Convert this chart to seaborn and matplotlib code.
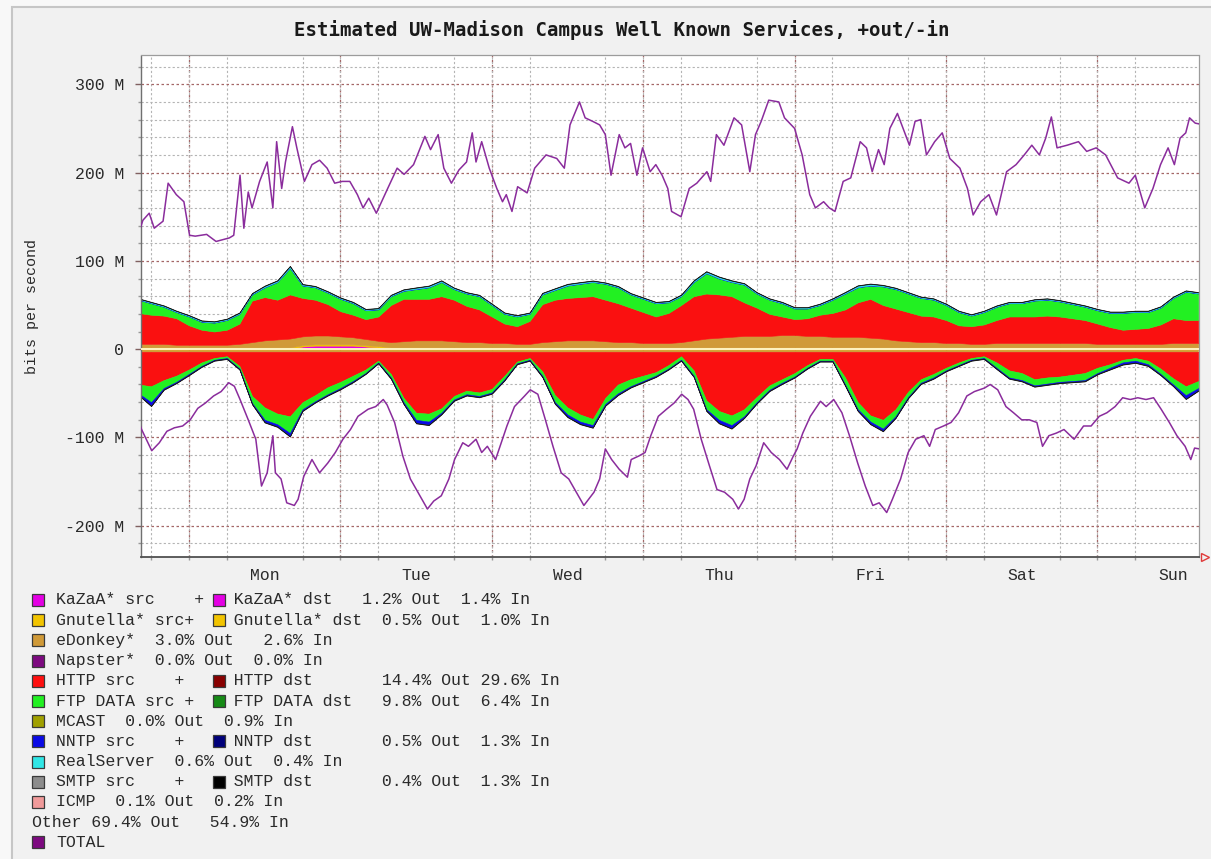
import numpy as np
import matplotlib
matplotlib.use("Agg")
import matplotlib.pyplot as plt
import seaborn as sns
from matplotlib.patches import Rectangle
from matplotlib.ticker import MultipleLocator

W, H = 1211, 859

# ---------------- data (Mbit/s, time in hours from Monday 00:00) ----------------
# stacked areas are read every 2 hours from Sun 16:00 to Sun 16:00
area_hours = np.arange(-8, 161, 2)

kazaa_out = [0.5, 0.5, 0.5, 0.5, 0.5, 0.5, 0.5, 0.5, 0.5, 0.5, 0.5, 0.5,
             0.5, 3, 4, 4, 4, 4, 3, 2, 0.5, 0.5, 0.5, 0.5,
             0.5, 0.5, 0.5, 0.5, 0.5, 0.5, 0.5, 0.5, 0.5, 0.5, 0.5, 0.5,
             0.5, 0.5, 0.5, 0.5, 0.5, 0.5, 0.5, 0.5, 0.5, 0.5, 0.5, 0.5,
             0.5, 0.5, 0.5, 0.5, 0.5, 0.5, 0.5, 0.5, 0.5, 0.5, 0.5, 0.5,
             0.5, 0.5, 0.5, 0.5, 0.5, 0.5, 0.5, 0.5, 0.5, 0.5, 0.5, 0.5,
             0.5, 0.5, 0.5, 0.5, 0.5, 0.5, 0.5, 0.5, 0.5, 0.5, 0.5, 0.5,
             0.5]
gnutella_out = [1.5, 1.5, 1.5, 1.5, 1.5, 1.5, 1.5, 1.5, 1.5, 1.5, 1.5, 1.5,
                1.5, 1.5, 1.5, 1.5, 1.5, 1.5, 1.5, 1.5, 1.5, 1.5, 1.5, 1.5,
                1.5, 1.5, 1.5, 1.5, 1.5, 1.5, 1.5, 1.5, 1.5, 1.5, 1.5, 1.5,
                1.5, 1.5, 1.5, 1.5, 1.5, 1.5, 1.5, 1.5, 1.5, 1.5, 1.5, 1.5,
                1.5, 1.5, 1.5, 1.5, 1.5, 1.5, 1.5, 1.5, 1.5, 1.5, 1.5, 1.5,
                1.5, 1.5, 1.5, 1.5, 1.5, 1.5, 1.5, 1.5, 1.5, 1.5, 1.5, 1.5,
                1.5, 1.5, 1.5, 1.5, 1.5, 1.5, 1.5, 1.5, 1.5, 1.5, 1.5, 1.5,
                1.5]
edonkey_out = [4, 4, 4, 3, 3, 3, 3, 3, 4, 6, 8, 9,
               10, 10, 10, 10, 9, 8, 7, 6, 6, 7, 8, 8,
               8, 7, 6, 6, 5, 5, 4, 4, 6, 7, 8, 8,
               8, 7, 6, 6, 5, 5, 5, 6, 8, 10, 11, 12,
               13, 13, 13, 14, 14, 13, 13, 12, 12, 12, 11, 10,
               8, 7, 6, 6, 5, 5, 4, 4, 5, 5, 5, 5,
               5, 5, 5, 5, 4, 4, 4, 4, 4, 4, 5, 5,
               5]
http_out = [35, 33, 32, 30, 22, 17, 15, 17, 23, 47, 49, 45,
            50, 43.5, 40.5, 35.5, 28.5, 25.5, 22.5, 27.5, 42, 48, 47, 47,
            50, 47, 41, 37, 30, 22, 20, 26, 43, 47, 48, 49,
            50, 47, 44, 39, 35, 30, 34, 42, 50, 51, 49, 46,
            38, 32, 25, 21, 18, 20, 24, 27, 31, 39, 44, 38,
            36, 33, 30, 29, 26, 20, 20, 22, 26, 30, 30, 30,
            31, 30, 28, 26, 23, 19, 16, 17, 18, 22, 28, 26,
            26]
ftp_out = [15, 13, 10, 7, 10, 9, 10, 11, 11, 7, 11, 20,
           30, 14, 14, 13, 14, 13, 10, 8, 10, 9, 11, 13,
           16, 12, 14, 15, 13, 11, 11, 8, 11, 11, 14, 15,
           16, 18, 18, 15, 15, 15, 12, 10, 16, 23, 18, 16,
           20, 16, 16, 15, 12, 11, 11, 15, 18, 17, 15, 21,
           22, 21, 20, 19, 17, 15, 12, 14, 15, 15, 15, 18,
           18, 17, 16, 15, 15, 16, 19, 19, 18, 19, 23, 32,
           30]
nntp_out = [0.4, 0.4, 0.4, 0.4, 0.4, 0.4, 0.4, 0.4, 0.4, 0.4, 0.4, 0.4,
            0.4, 0.4, 0.4, 0.4, 0.4, 0.4, 0.4, 0.4, 0.4, 0.4, 0.4, 0.4,
            0.4, 0.4, 0.4, 0.4, 0.4, 0.4, 0.4, 0.4, 0.4, 0.4, 0.4, 0.4,
            0.4, 0.4, 0.4, 0.4, 0.4, 0.4, 0.4, 0.4, 0.4, 0.4, 0.4, 0.4,
            0.4, 0.4, 0.4, 0.4, 0.4, 0.4, 0.4, 0.4, 0.4, 0.4, 0.4, 0.4,
            0.4, 0.4, 0.4, 0.4, 0.4, 0.4, 0.4, 0.4, 0.4, 0.4, 0.4, 0.4,
            0.4, 0.4, 0.4, 0.4, 0.4, 0.4, 0.4, 0.4, 0.4, 0.4, 0.4, 0.4,
            0.4]
real_out = [0.8, 0.8, 0.8, 0.8, 0.8, 0.8, 0.8, 0.8, 0.8, 0.8, 1.2, 1.2,
            1.5, 1.0, 0.8, 0.8, 0.8, 0.8, 0.8, 0.8, 0.8, 1.0, 1.2, 1.2,
            1.2, 1.0, 0.8, 0.8, 0.8, 0.8, 0.8, 0.8, 1.0, 1.2, 1.2, 1.2,
            1.0, 0.8, 0.8, 0.8, 0.8, 0.8, 0.8, 1.0, 1.2, 1.5, 1.5, 1.2,
            1.0, 0.8, 0.8, 0.8, 0.8, 0.8, 0.8, 0.8, 1.0, 1.5, 1.5, 1.0,
            0.8, 0.8, 0.8, 0.8, 0.8, 0.8, 0.8, 0.8, 0.8, 0.8, 0.8, 0.8,
            0.8, 0.8, 0.8, 0.8, 0.8, 0.8, 0.8, 0.8, 0.8, 0.8, 0.8, 0.8,
            0.8]
smtp_out = [0.5, 0.5, 0.5, 0.5, 0.5, 0.5, 0.5, 0.5, 0.5, 0.5, 0.5, 0.5,
            0.5, 0.5, 0.5, 0.5, 0.5, 0.5, 0.5, 0.5, 0.5, 0.5, 0.5, 0.5,
            0.5, 0.5, 0.5, 0.5, 0.5, 0.5, 0.5, 0.5, 0.5, 0.5, 0.5, 0.5,
            0.5, 0.5, 0.5, 0.5, 0.5, 0.5, 0.5, 0.5, 0.5, 0.5, 0.5, 0.5,
            0.5, 0.5, 0.5, 0.5, 0.5, 0.5, 0.5, 0.5, 0.5, 0.5, 0.5, 0.5,
            0.5, 0.5, 0.5, 0.5, 0.5, 0.5, 0.5, 0.5, 0.5, 0.5, 0.5, 0.5,
            0.5, 0.5, 0.5, 0.5, 0.5, 0.5, 0.5, 0.5, 0.5, 0.5, 0.5, 0.5,
            0.5]

gnutella_in = [1, 1, 1, 1, 1, 1, 1, 1, 1, 1, 1, 1,
               1, 1, 1, 1, 1, 1, 1, 1, 1, 1, 1, 1,
               1, 1, 1, 1, 1, 1, 1, 1, 1, 1, 1, 1,
               1, 1, 1, 1, 1, 1, 1, 1, 1, 1, 1, 1,
               1, 1, 1, 1, 1, 1, 1, 1, 1, 1, 1, 1,
               1, 1, 1, 1, 1, 1, 1, 1, 1, 1, 1, 1,
               1, 1, 1, 1, 1, 1, 1, 1, 1, 1, 1, 1,
               1]
edonkey_in = [2, 2, 2, 2, 2, 2, 2, 2, 2, 2, 2, 2,
              2, 2, 2, 2, 2, 2, 2, 2, 2, 2, 2, 2,
              2, 2, 2, 2, 2, 2, 2, 2, 2, 2, 2, 2,
              2, 2, 2, 2, 2, 2, 2, 2, 2, 2, 2, 2,
              2, 2, 2, 2, 2, 2, 2, 2, 2, 2, 2, 2,
              2, 2, 2, 2, 2, 2, 2, 2, 2, 2, 2, 2,
              2, 2, 2, 2, 2, 2, 2, 2, 2, 2, 2, 2,
              2]
http_in = [37, 39, 32, 27, 20, 12, 7, 5, 16, 50, 63, 70,
           73, 57, 49, 40, 34, 27, 20, 10, 25, 52, 69, 70,
           64, 50, 44, 46, 42, 27, 11, 7, 22, 49, 63, 71,
           76, 52, 37, 31, 27, 23, 15, 5, 21, 55, 67, 72,
           65, 51, 38, 31, 24, 15, 8, 8, 29, 57, 72, 77,
           65, 45, 31, 25, 18, 12, 7, 5, 12, 21, 24, 31,
           29, 28, 26, 24, 18, 14, 9, 7, 10, 19, 30, 39,
           33]
ftp_in = [10, 18, 9, 7, 5, 4, 2, 2, 3, 8, 14, 12,
          19, 8, 7, 8, 7, 6, 4, 2, 4, 5, 8, 9,
          5, 4, 4, 4, 4, 4, 2, 2, 5, 8, 8, 8,
          7, 7, 10, 8, 6, 4, 4, 4, 6, 10, 10, 11,
          8, 6, 5, 4, 4, 3, 2, 2, 8, 8, 7, 10,
          8, 6, 4, 4, 3, 3, 2, 2, 6, 8, 8, 7,
          7, 6, 7, 8, 6, 4, 3, 3, 4, 6, 7, 10,
          8]
nntp_in = [1.5, 4, 1.5, 1, 1, 0.6, 0.6, 0.6, 0.6, 1, 2.5, 2.5,
           3.5, 1.5, 1, 1, 1, 1, 0.6, 0.6, 1, 1.5, 3.5, 3.5,
           1.5, 1, 1, 1, 1, 1, 0.6, 0.6, 1, 1.5, 2.5, 2.5,
           2.5, 1.5, 1.5, 1, 1, 1, 0.6, 0.6, 1, 1.5, 3.5, 3.5,
           1.5, 1, 1, 1, 0.6, 0.6, 0.6, 0.6, 1, 1.5, 2.5, 2.5,
           1.5, 1, 1, 1, 0.6, 0.6, 0.6, 0.6, 1, 1, 1, 1,
           1, 1, 1, 1, 1, 1.5, 2, 2, 1.5, 1, 1.5, 4,
           2.5]
smtp_in = [0.6, 0.6, 0.6, 0.6, 0.6, 0.6, 0.6, 0.6, 0.6, 0.6, 0.6, 0.6,
           0.6, 0.6, 0.6, 0.6, 0.6, 0.6, 0.6, 0.6, 0.6, 0.6, 0.6, 0.6,
           0.6, 0.6, 0.6, 0.6, 0.6, 0.6, 0.6, 0.6, 0.6, 0.6, 0.6, 0.6,
           0.6, 0.6, 0.6, 0.6, 0.6, 0.6, 0.6, 0.6, 0.6, 0.6, 0.6, 0.6,
           0.6, 0.6, 0.6, 0.6, 0.6, 0.6, 0.6, 0.6, 0.6, 0.6, 0.6, 0.6,
           0.6, 0.6, 0.6, 0.6, 0.6, 0.6, 0.6, 0.6, 0.6, 0.6, 0.6, 0.6,
           0.6, 0.6, 0.6, 0.6, 0.6, 0.6, 0.6, 0.6, 0.6, 0.6, 0.6, 0.6,
           0.6]

# TOTAL lines, read at their own (irregular) times
total_out_hours = [-7.8, -7.3, -6.3, -5.5, -4.1, -3.3, -2.0, -0.8, 0.1, 1.0, 2.8, 4.3,
                   6.4, 7.1, 8.1, 8.7, 9.4, 10.0, 11.2, 12.4, 13.3, 13.9, 14.7, 15.3,
                   16.4, 17.1, 18.3, 19.5, 20.7, 21.9, 23.1, 24.3, 25.5, 26.7, 27.6, 28.5,
                   29.7, 31.5, 33.0, 34.1, 35.6, 37.4, 38.3, 39.5, 40.4, 41.6, 42.8, 44.0,
                   44.9, 45.5, 46.4, 47.6, 48.8, 49.7, 50.3, 51.2, 52.1, 53.6, 54.8, 56.6,
                   58.3, 59.5, 60.4, 61.9, 62.8, 64.0, 65.1, 66.0, 66.9, 68.2, 69.1, 70.0,
                   71.0, 71.9, 73.1, 74.0, 75.0, 75.9, 76.5, 78.0, 79.3, 80.5, 82.1, 82.7,
                   83.6, 84.8, 86.4, 87.6, 88.9, 89.8, 90.7, 91.9, 93.5, 94.4, 96.0, 97.2,
                   98.4, 99.3, 100.6, 101.5, 102.4, 103.7, 104.9, 106.4, 107.4, 108.3, 109.3, 110.2,
                   111.1, 112.3, 113.2, 114.2, 115.1, 116.0, 116.9, 118.2, 119.4, 120.6, 122.2, 123.4,
                   124.3, 125.5, 126.8, 128.0, 129.6, 131.1, 132.4, 133.6, 134.8, 135.8, 136.7, 137.6,
                   139.2, 141.0, 142.3, 143.8, 145.3, 147.2, 149.0, 150.0, 151.5, 152.8, 154.0, 155.2,
                   156.2, 157.1, 158.0, 158.6, 159.5, 160.2]
total_out = [135, 146, 154, 137, 145, 188, 175, 167, 129, 128, 130, 122,
             126, 129, 197, 137, 178, 160, 190, 212, 160, 235, 182, 212,
             252, 228, 190, 209, 214, 205, 188, 190, 190, 175, 160, 171,
             154, 182, 205, 198, 209, 241, 226, 243, 205, 188, 203, 212,
             245, 212, 235, 205, 182, 167, 175, 156, 184, 177, 205, 220,
             216, 205, 254, 280, 262, 258, 254, 243, 197, 243, 228, 233,
             197, 228, 201, 209, 197, 182, 156, 150, 182, 188, 201, 190,
             243, 231, 262, 254, 201, 243, 258, 282, 280, 262, 250, 220,
             175, 160, 167, 160, 156, 190, 194, 235, 228, 201, 226, 209,
             250, 267, 250, 231, 258, 260, 220, 235, 245, 216, 205, 182,
             152, 167, 175, 152, 201, 209, 220, 231, 220, 239, 263, 228,
             231, 235, 224, 228, 220, 194, 188, 197, 160, 182, 209, 228,
             209, 239, 245, 262, 256, 255]

total_in_hours = [-7.8, -7.5, -5.9, -4.7, -3.5, -2.3, -1.0, 0.2, 1.4, 2.6, 3.9, 5.1,
                  6.3, 7.2, 8.1, 9.4, 10.6, 11.5, 12.4, 13.3, 13.7, 14.6, 15.5, 16.7,
                  17.3, 18.2, 19.5, 20.7, 22.0, 23.2, 24.4, 25.6, 26.8, 28.4, 29.6, 30.8,
                  31.4, 32.6, 33.9, 35.1, 36.3, 37.8, 38.8, 40.0, 41.2, 42.1, 43.4, 44.3,
                  45.5, 46.4, 47.3, 48.6, 49.5, 50.4, 51.6, 53.2, 54.1, 55.3, 56.5, 57.7,
                  59.0, 60.2, 61.4, 62.6, 64.2, 65.1, 66.0, 67.0, 68.2, 69.5, 70.1, 71.3,
                  72.3, 73.2, 74.4, 75.7, 76.9, 78.1, 79.1, 80.0, 81.2, 82.5, 83.7, 84.9,
                  86.2, 87.1, 88.0, 88.9, 89.9, 91.1, 92.3, 93.6, 94.8, 95.8, 96.4, 97.3,
                  98.5, 100.1, 101.0, 102.2, 103.5, 104.7, 106.0, 107.2, 108.4, 109.4, 110.6, 111.5,
                  112.8, 114.0, 115.2, 116.5, 117.4, 118.3, 119.6, 120.8, 122.0, 123.3, 124.5, 126.1,
                  127.0, 128.2, 129.5, 130.7, 132.0, 133.2, 134.4, 135.3, 136.3, 137.5, 138.7, 140.3,
                  141.8, 143.0, 144.3, 145.5, 146.8, 148.0, 149.2, 150.4, 151.7, 152.9, 154.1, 155.4,
                  156.6, 157.9, 158.8, 159.4, 160.2]
total_in = [-85, -91, -115, -106, -93, -89, -87, -80, -67, -61, -53, -48,
            -38, -42, -57, -80, -102, -155, -140, -98, -140, -147, -174, -177,
            -170, -144, -125, -140, -129, -117, -102, -91, -76, -68, -65, -57,
            -63, -83, -121, -147, -162, -181, -172, -166, -147, -125, -106, -110,
            -102, -117, -110, -125, -106, -87, -65, -53, -46, -51, -80, -110,
            -140, -147, -162, -177, -162, -147, -113, -125, -136, -145, -125, -121,
            -117, -98, -76, -68, -61, -51, -57, -68, -102, -132, -159, -162,
            -170, -181, -170, -147, -132, -106, -117, -125, -136, -121, -113, -95,
            -76, -59, -65, -57, -72, -98, -129, -155, -177, -174, -185, -170,
            -147, -117, -102, -98, -110, -91, -87, -83, -72, -53, -48, -44,
            -40, -46, -65, -72, -80, -80, -83, -110, -98, -95, -91, -102,
            -87, -87, -76, -72, -65, -55, -57, -55, -57, -55, -68, -83,
            -98, -110, -125, -112, -113]

day_names = ["Mon", "Tue", "Wed", "Thu", "Fri", "Sat", "Sun"]
y_tick_values = [-200, -100, 0, 100, 200, 300]
y_tick_labels = ["-200 M", "-100 M", "0", "100 M", "200 M", "300 M"]

legend_texts = [
    "KaZaA* src    +   KaZaA* dst   1.2% Out  1.4% In",
    "Gnutella* src+    Gnutella* dst  0.5% Out  1.0% In",
    "eDonkey*  3.0% Out   2.6% In",
    "Napster*  0.0% Out  0.0% In",
    "HTTP src    +     HTTP dst       14.4% Out 29.6% In",
    "FTP DATA src +    FTP DATA dst   9.8% Out  6.4% In",
    "MCAST  0.0% Out  0.9% In",
    "NNTP src    +     NNTP dst       0.5% Out  1.3% In",
    "RealServer  0.6% Out  0.4% In",
    "SMTP src    +     SMTP dst       0.4% Out  1.3% In",
    "ICMP  0.1% Out  0.2% In",
    "Other 69.4% Out   54.9% In",
    "TOTAL",
]
legend_swatches = [
    ("#e400e4", "#e400e4"),
    ("#f2c400", "#f2c400"),
    ("#d09a38", None),
    ("#7d0a80", None),
    ("#ff1010", "#880000"),
    ("#22f022", "#168a16"),
    ("#a0a000", None),
    ("#0a0ae6", "#00007a"),
    ("#30e6e6", None),
    ("#8c8c8c", "#000000"),
    ("#f09a9a", None),
    (None, None),
    ("#7d0a80", None),
]

# ---------------- style ----------------
sns.set_theme(style="white")
plt.rcParams["font.family"] = ["Liberation Mono", "DejaVu Sans Mono"]

out_colors = ["#e400e4", "#f2c400", "#d09a38", "#fa1010", "#22f022",
              "#0a0ae6", "#30e6e6", "#1a1a1a"]
in_colors = ["#f2c400", "#d09a38", "#fa1010", "#22f022", "#0a0ae6", "#1a1a1a"]
total_color = "#8a2c9c"
minor_grid = "#b4b4b4"
major_grid = "#a46666"

fig = plt.figure(figsize=(W / 100, H / 100), dpi=100)
fig.patch.set_facecolor("#f8f8f8")
fig.add_artist(Rectangle((12 / W, -0.02), 1.0, 1 - 7 / H + 0.02, transform=fig.transFigure,
                         facecolor="#f1f1f1", edgecolor="#c6c6c6", linewidth=1.5, zorder=-10))

ax = fig.add_axes([141 / W, 1 - 556.5 / H, 1058 / W, 501 / H])
ax.set_facecolor("white")

# stacked areas: +out above zero, -in below
ax.stackplot(area_hours,
             [kazaa_out, gnutella_out, edonkey_out, http_out, ftp_out, nntp_out, real_out, smtp_out],
             colors=out_colors, linewidth=0.4, edgecolor="face", zorder=2)
ax.stackplot(area_hours,
             [-np.asarray(v, dtype=float) for v in
              [gnutella_in, edonkey_in, http_in, ftp_in, nntp_in, smtp_in]],
             colors=in_colors, linewidth=0.4, edgecolor="face", zorder=2)
ax.axhline(0, color="#fff4c4", lw=1.4, zorder=3)

sns.lineplot(x=total_out_hours, y=total_out, ax=ax, color=total_color, linewidth=1.1,
             estimator=None, zorder=4)
sns.lineplot(x=total_in_hours, y=total_in, ax=ax, color=total_color, linewidth=1.1,
             estimator=None, zorder=4)

ax.set_xlim(-7.6, 160.1)
ax.set_ylim(-234.8, 332.6)

# grid: minor every 20 M / 6 h, major every 100 M / midnight
ax.set_yticks(y_tick_values)
ax.set_yticklabels(y_tick_labels)
ax.yaxis.set_minor_locator(MultipleLocator(20))
ax.set_xticks([12 + 24 * d for d in range(len(day_names))])
ax.set_xticklabels(day_names)
ax.xaxis.set_minor_locator(MultipleLocator(6))
ax.grid(which="minor", color=minor_grid, lw=0.8, ls=(0, (2, 2)), zorder=0)
ax.grid(which="major", axis="y", color=major_grid, lw=0.9, ls=(0, (2, 2)), zorder=0.5)
ax.grid(which="major", axis="x", visible=False)
for d in range(7):
    ax.axvline(24 * d, color=major_grid, lw=0.9, ls=(0, (2, 2)), zorder=0.5)
ax.set_axisbelow(True)

ax.tick_params(axis="y", which="major", length=4, width=1, color="#806060", pad=8,
               labelsize=11.9, labelcolor="#2a2a2a", left=True)
ax.tick_params(axis="y", which="minor", length=2, color="#999999", left=True)
ax.tick_params(axis="x", which="major", length=0, pad=8, labelsize=11.9, labelcolor="#2a2a2a")
ax.tick_params(axis="x", which="minor", length=2, color="#999999", bottom=True)

for side in ["top", "right"]:
    ax.spines[side].set_color("#9c9c9c")
    ax.spines[side].set_linewidth(0.9)
ax.spines["left"].set_color("#707070")
ax.spines["left"].set_linewidth(1.0)
ax.spines["bottom"].set_color("#505050")
ax.spines["bottom"].set_linewidth(1.3)
ax.plot([1.006], [0.0], marker=">", ms=6, mfc="none", mec="#e03a3a", mew=1.0,
        transform=ax.transAxes, clip_on=False)

ax.set_xlabel("")
ax.set_ylabel("")
fig.text(32 / W, 1 - 306 / H, "bits per second", rotation=90, ha="center", va="center",
         fontsize=10.8, color="#2a2a2a")
fig.text(622 / W, 1 - 30 / H, "Estimated UW-Madison Campus Well Known Services, +out/-in",
         ha="center", va="center", fontsize=13.7, fontweight="bold",
         family="DejaVu Sans Mono", color="#1a1a1a")

# legend rows (RRD style)
for k, (text, (c1, c2)) in enumerate(zip(legend_texts, legend_swatches)):
    yc = 600 + 20.2 * k
    if c1 is not None:
        fig.add_artist(Rectangle((32 / W, 1 - (yc + 6) / H), 12 / W, 12 / H,
                                 transform=fig.transFigure, facecolor=c1,
                                 edgecolor="#3a3a3a", linewidth=0.9))
        tx = 56.5
    else:
        tx = 31.5
    if c2 is not None:
        fig.add_artist(Rectangle((213 / W, 1 - (yc + 6) / H), 12 / W, 12 / H,
                                 transform=fig.transFigure, facecolor=c2,
                                 edgecolor="#3a3a3a", linewidth=0.9))
        text = text[:15] + "   " + text[18:]
    fig.text(tx / W, 1 - yc / H, text, ha="left", va="center", fontsize=11.9,
             color="#2a2a2a")

fig.savefig("out.png", dpi=100, facecolor=fig.get_facecolor())
